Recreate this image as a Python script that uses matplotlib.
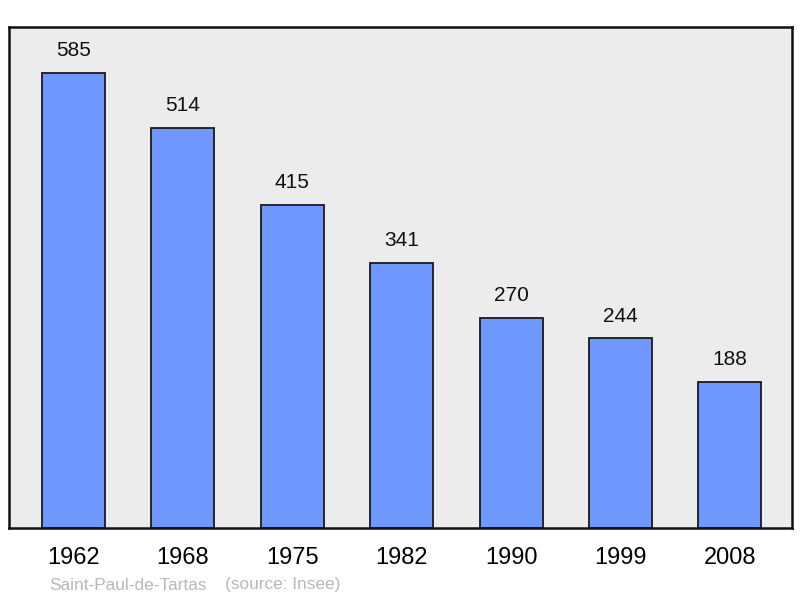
import matplotlib
matplotlib.use('Agg')
import matplotlib.pyplot as plt

plt.rcParams['font.family'] = ['Liberation Sans', 'DejaVu Sans']

# données de population
years = ['1962', '1968', '1975', '1982', '1990', '1999', '2008']
population = [585, 514, 415, 341, 270, 244, 188]
commune = 'Saint-Paul-de-Tartas'
source = '(source: Insee)'

fig = plt.figure(figsize=(8, 5.98), dpi=100)
ax = fig.add_axes([9 / 800, 70 / 598, 783 / 800, 501 / 598])
ax.set_facecolor('#ececec')

x = list(range(len(years)))
bars = ax.bar(x, population, width=0.576, color='#7099ff', edgecolor='#1a1a1a', linewidth=1.3, zorder=2)

for xi, v in zip(x, population):
    ax.annotate(str(v), (xi, v), xytext=(0, 9), textcoords='offset points',
                ha='center', va='bottom', fontsize=15, color='#111111')

ax.set_xlim(-0.59, 6.567)
ax.set_ylim(0, max(population) * 1.1)
ax.set_yticks([])
ax.set_xticks(x)
ax.set_xticklabels(years, fontsize=17)
ax.tick_params(axis='x', length=0, pad=14)
for s in ax.spines.values():
    s.set_linewidth(1.8)
    s.set_color('#111111')

fig.text(49 / 800, 1 - 585 / 598, commune, fontsize=12.4, color='#b8b8b8', va='center', ha='left')
fig.text(225 / 800, 1 - 585 / 598, source, fontsize=12.4, color='#b8b8b8', va='center', ha='left')

fig.savefig('out.png', dpi=100)
